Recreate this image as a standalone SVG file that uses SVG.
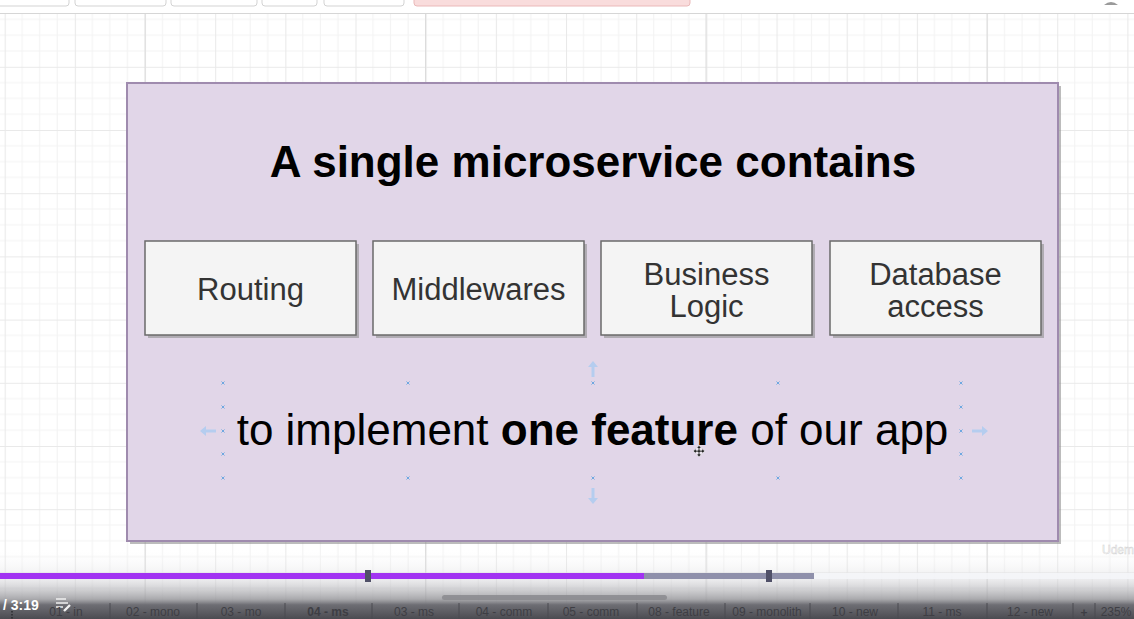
<svg xmlns="http://www.w3.org/2000/svg" width="1134" height="619" viewBox="0 0 1134 619">
  <defs>
    <style>
      .sans { font-family: "Liberation Sans", Arial, Helvetica, sans-serif; }
      .box { fill: #f4f4f4; stroke: #6a6a6a; stroke-width: 1.5; }
      .shadow { fill: #8f8f8f; opacity: 0.6; }
      .boxtext { font-family: "Liberation Sans", Arial, Helvetica, sans-serif; font-size: 31px; fill: #333333; text-anchor: middle; }
      .handle { stroke: #6fa8e0; stroke-width: 1; fill: none; }
      .harrow { fill: #b5cdef; }
      .tab { font-family: "Liberation Sans", Arial, sans-serif; font-size: 12px; fill: #3e3e44; text-anchor: middle; }
      .tabsep { stroke: #4a4a50; stroke-width: 1; }
      .tbtn { fill: #ffffff; stroke: #d3d3d3; stroke-width: 1; }
    </style>
    <pattern id="grid" patternUnits="userSpaceOnUse" x="4.66" y="3.6" width="70.17" height="63.2">
      <rect width="70.17" height="63.2" fill="#ffffff"/>
      <path d="M17.54 0V63.2M35.08 0V63.2M52.63 0V63.2M0 15.8H70.17M0 31.6H70.17M0 47.4H70.17" stroke="#f3f3f3" stroke-width="1" fill="none"/>
      <path d="M0.5 0V63.2M0 0.5H70.17" stroke="#e9e9e9" stroke-width="1" fill="none"/>
    </pattern>
    <linearGradient id="fade" x1="0" y1="548" x2="0" y2="619" gradientUnits="userSpaceOnUse">
      <stop offset="0" stop-color="#ffffff" stop-opacity="0"/>
      <stop offset="0.45" stop-color="#d2d2d6" stop-opacity="0.45"/>
      <stop offset="0.72" stop-color="#9a9a9e" stop-opacity="0.85"/>
      <stop offset="0.8" stop-color="#6e6e74" stop-opacity="1"/>
      <stop offset="1" stop-color="#4b4b51" stop-opacity="1"/>
    </linearGradient>
  </defs>

  <!-- canvas background -->
  <rect x="0" y="0" width="1134" height="619" fill="#ffffff"/>
  <rect x="0" y="13" width="1134" height="606" fill="url(#grid)"/>
  <path d="M145 13V619M425.5 13V619M706 13V619M987 13V619" stroke="#dcdcdc" stroke-width="1"/>

  <!-- top toolbar (cut off) -->
  <g id="toolbar">
    <rect x="0" y="0" width="1134" height="13" fill="#ffffff"/>
    <rect class="tbtn" x="-6" y="-10" width="75" height="16" rx="3"/>
    <rect class="tbtn" x="75" y="-10" width="91" height="16" rx="3"/>
    <rect class="tbtn" x="171" y="-10" width="86" height="16" rx="3"/>
    <rect class="tbtn" x="262" y="-10" width="55" height="16" rx="3"/>
    <rect class="tbtn" x="324" y="-10" width="80" height="16" rx="3"/>
    <rect x="414" y="-10" width="276" height="16" rx="3" fill="#f9dcdc" stroke="#eab9b9"/>
    <path d="M1104 5 Q1111 -1 1118 5 Z" fill="#9a9a9a"/>
    <line x1="0" y1="13.5" x2="1134" y2="13.5" stroke="#d6d6d6" stroke-width="1"/>
  </g>

  <!-- container -->
  <g id="container">
    <rect x="130" y="86" width="931" height="458" class="shadow"/>
    <rect x="127" y="83" width="931" height="458" fill="#e1d6e8" stroke="#9f8bae" stroke-width="2"/>
    <text class="sans" x="593" y="177" font-size="44" font-weight="bold" fill="#000000" text-anchor="middle">A single microservice contains</text>
  </g>

  <g id="routing">
    <rect class="shadow" x="148" y="244" width="211" height="94"/>
    <rect class="box" x="145" y="241" width="211" height="94"/>
    <text class="boxtext" x="250.5" y="300">Routing</text>
  </g>
  <g id="middlewares">
    <rect class="shadow" x="376" y="244" width="211" height="94"/>
    <rect class="box" x="373" y="241" width="211" height="94"/>
    <text class="boxtext" x="478.5" y="300">Middlewares</text>
  </g>
  <g id="business-logic">
    <rect class="shadow" x="604" y="244" width="211" height="94"/>
    <rect class="box" x="601" y="241" width="211" height="94"/>
    <text class="boxtext" x="706.5" y="285">Business</text>
    <text class="boxtext" x="706.5" y="317">Logic</text>
  </g>
  <g id="database-access">
    <rect class="shadow" x="833" y="244" width="211" height="94"/>
    <rect class="box" x="830" y="241" width="211" height="94"/>
    <text class="boxtext" x="935.5" y="285">Database</text>
    <text class="boxtext" x="935.5" y="317">access</text>
  </g>

  <!-- selected text label -->
  <g id="feature-label">
    <text class="sans" x="592.5" y="445" font-size="44" fill="#000000" text-anchor="middle">to implement <tspan font-weight="bold">one feature</tspan> of our app</text>
    <g class="handle">
      <path d="M221.5 381.5l3 3M224.5 381.5l-3 3"/>
      <path d="M406.5 381.5l3 3M409.5 381.5l-3 3"/>
      <path d="M591.5 381.5l3 3M594.5 381.5l-3 3"/>
      <path d="M776.5 381.5l3 3M779.5 381.5l-3 3"/>
      <path d="M959.5 381.5l3 3M962.5 381.5l-3 3"/>
      <path d="M221.5 476.5l3 3M224.5 476.5l-3 3"/>
      <path d="M406.5 476.5l3 3M409.5 476.5l-3 3"/>
      <path d="M591.5 476.5l3 3M594.5 476.5l-3 3"/>
      <path d="M776.5 476.5l3 3M779.5 476.5l-3 3"/>
      <path d="M959.5 476.5l3 3M962.5 476.5l-3 3"/>
      <path d="M221.5 405.5l3 3M224.5 405.5l-3 3"/>
      <path d="M221.5 429.5l3 3M224.5 429.5l-3 3"/>
      <path d="M221.5 452.5l3 3M224.5 452.5l-3 3"/>
      <path d="M959.5 405.5l3 3M962.5 405.5l-3 3"/>
      <path d="M959.5 429.5l3 3M962.5 429.5l-3 3"/>
      <path d="M959.5 452.5l3 3M962.5 452.5l-3 3"/>
    </g>
    <polygon class="harrow" points="200,431 206,426 206,429.5 216,429.5 216,432.5 206,432.5 206,436"/>
    <polygon class="harrow" points="988,431 982,426 982,429.5 972,429.5 972,432.5 982,432.5 982,436"/>
    <polygon class="harrow" points="593,361 588,367 591.5,367 591.5,377 594.5,377 594.5,367 598,367"/>
    <polygon class="harrow" points="593,504 588,498 591.5,498 591.5,488 594.5,488 594.5,498 598,498"/>
    <path d="M699 445.5l-2.5 2.5h1.7v2.3h-2.3v-1.7l-2.5 2.5 2.5 2.5v-1.7h2.3v2.3h-1.7l2.5 2.5 2.5-2.5h-1.7v-2.3h2.3v1.7l2.5-2.5-2.5-2.5v1.7h-2.300v-2.3h1.7z" fill="#111111" stroke="#ffffff" stroke-width="0.6"/>
  </g>

  <!-- video player overlay -->
  <g id="player">
    <rect x="0" y="548" width="1134" height="71" fill="url(#fade)"/>
    <text class="sans" x="1102" y="554" font-size="12" fill="#ffffff" stroke="#c8c8c8" stroke-width="0.5" opacity="0.8">Udem</text>
    <rect x="0" y="573" width="1134" height="6" fill="#f4f5f8" opacity="0.9"/>
    <rect x="0" y="573" width="814" height="6" fill="#8f90ab"/>
    <rect x="0" y="573" width="644" height="6" fill="#a233f2"/>
    <rect x="365" y="570" width="6" height="12" fill="#505068"/>
    <rect x="766" y="570" width="6" height="12" fill="#505068"/>
    <rect x="442" y="595" width="225" height="5" rx="2.5" fill="#8a8a8e" opacity="0.85"/>
    <text class="sans" x="3" y="610" font-size="14" font-weight="bold" fill="#ffffff">/ 3:19</text>
    <g stroke="#f0f0f0" stroke-width="1.4" fill="none">
      <path d="M56 599h10M56 603h12M56 607h7"/>
      <path d="M64 611l6-6" stroke-width="2.4"/>
    </g>
    <g id="tabs">
      <path class="tabsep" d="M110 603V619M197 603V619M285 603V619M372 603V619M459 603V619M548 603V619M637 603V619M725 603V619M810 603V619M898 603V619M987 603V619M1073 603V619M1095 603V619"/>
      <path d="M12 611v1.6M12 614v1.6M12 617v1.6" stroke="#2f2f33" stroke-width="1.6"/>
      <text class="tab" x="66" y="616">01 - in</text>
      <text class="tab" x="153" y="616">02 - mono</text>
      <text class="tab" x="241" y="616">03 - mo</text>
      <text class="tab" x="328" y="616" font-weight="bold" fill="#2c2c30">04 - ms</text>
      <text class="tab" x="414" y="616">03 - ms</text>
      <text class="tab" x="504" y="616">04 - comm</text>
      <text class="tab" x="591" y="616">05 - comm</text>
      <text class="tab" x="679" y="616">08 - feature</text>
      <text class="tab" x="767" y="616">09 - monolith</text>
      <text class="tab" x="855" y="616">10 - new</text>
      <text class="tab" x="942" y="616">11 - ms</text>
      <text class="tab" x="1030" y="616">12 - new</text>
      <text class="tab" x="1084" y="617" font-size="16" font-weight="bold" fill="#333338">+</text>
      <text class="tab" x="1116" y="616">235%</text>
    </g>
  </g>
</svg>
